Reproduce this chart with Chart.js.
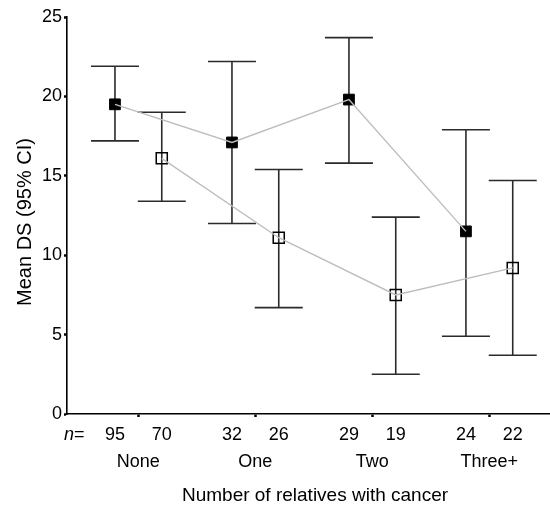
<!DOCTYPE html>
<html>
<head>
<meta charset="utf-8">
<script src="https://cdn.jsdelivr.net/npm/chart.js@4"></script>
<style>
  html, body { margin: 0; padding: 0; background: #fff; overflow: hidden; }
</style>
</head>
<body>
<canvas id="chart" width="550" height="505"></canvas>
<script>
// categories on the x axis
const categories = ["None", "One", "Two", "Three+"];
// group sizes under each point
const filledN = [95, 32, 29, 24];
const openN = [70, 26, 19, 22];
// means and 95% CI, filled squares
const filledMean = [19.5, 17.1, 19.8, 11.5];
const filledLow = [17.2, 12.0, 15.8, 4.9];
const filledHigh = [21.9, 22.2, 23.7, 17.9];
// means and 95% CI, open squares
const openMean = [16.1, 11.1, 7.5, 9.2];
const openLow = [13.4, 6.7, 2.5, 3.7];
const openHigh = [19.0, 15.4, 12.4, 14.7];
// y ticks
const yTicks = [0, 5, 10, 15, 20, 25];

const OFFSET = 0.2;
const FONT = "'Liberation Sans', Arial, sans-serif";

const toPoints = (vals, shift) => vals.map((v, i) => ({ x: i + 1 + shift, y: v }));

const errorBars = {
  id: "errorBars",
  beforeDatasetsDraw(chart) {
    const xs = chart.scales.x, ys = chart.scales.y;
    const ctx = chart.ctx;
    ctx.save();
    ctx.strokeStyle = "#2b2b2b";
    ctx.lineWidth = 1.6;
    const draw = (lows, highs, shift) => {
      lows.forEach((lo, i) => {
        const x = xs.getPixelForValue(i + 1 + shift);
        const y1 = ys.getPixelForValue(lo);
        const y2 = ys.getPixelForValue(highs[i]);
        ctx.beginPath();
        ctx.moveTo(x, y1); ctx.lineTo(x, y2);
        ctx.moveTo(x - 24, y1); ctx.lineTo(x + 24, y1);
        ctx.moveTo(x - 24, y2); ctx.lineTo(x + 24, y2);
        ctx.stroke();
      });
    };
    draw(filledLow, filledHigh, -OFFSET);
    draw(openLow, openHigh, OFFSET);
    ctx.restore();
  },
  afterDraw(chart) {
    const xs = chart.scales.x;
    const ctx = chart.ctx;
    ctx.save();
    ctx.fillStyle = "#000";
    ctx.textBaseline = "middle";
    ctx.textAlign = "left";
    ctx.font = "italic 18px " + FONT;
    ctx.fillText("n", 64, 435);
    const nw = ctx.measureText("n").width;
    ctx.font = "18px " + FONT;
    ctx.fillText("=", 64 + nw, 435);
    ctx.textAlign = "center";
    categories.forEach((c, i) => {
      ctx.fillText(String(filledN[i]), xs.getPixelForValue(i + 1 - OFFSET), 435);
      ctx.fillText(String(openN[i]), xs.getPixelForValue(i + 1 + OFFSET), 435);
      ctx.fillText(c, xs.getPixelForValue(i + 1), 462);
    });
    // axis titles
    ctx.font = "19px " + FONT;
    ctx.fillText("Number of relatives with cancer", 315, 496);
    ctx.font = "20px " + FONT;
    ctx.textBaseline = "alphabetic";
    ctx.translate(30.5, 222);
    ctx.rotate(-Math.PI / 2);
    ctx.fillText("Mean DS (95% CI)", 0, 0);
    ctx.restore();
  }
};

new Chart(document.getElementById("chart"), {
  type: "line",
  data: {
    datasets: [
      {
        data: toPoints(filledMean, -OFFSET),
        showLine: false,
        pointStyle: "rect",
        pointRadius: 7.6,
        pointBackgroundColor: "#000",
        pointBorderColor: "#000",
        pointBorderWidth: 1,
        order: 2
      },
      {
        data: toPoints(openMean, OFFSET),
        showLine: false,
        pointStyle: "rect",
        pointRadius: 7.8,
        pointBackgroundColor: "rgba(0,0,0,0)",
        pointBorderColor: "#000",
        pointBorderWidth: 1.5,
        order: 2
      },
      {
        data: toPoints(filledMean, -OFFSET),
        borderColor: "#bdbdbd",
        borderWidth: 1.4,
        pointRadius: 0,
        order: 1
      },
      {
        data: toPoints(openMean, OFFSET),
        borderColor: "#bdbdbd",
        borderWidth: 1.4,
        pointRadius: 0,
        order: 1
      }
    ]
  },
  options: {
    responsive: false,
    animation: false,
    events: [],
    layout: { autoPadding: false, padding: { top: 17, right: 1, left: 0, bottom: 0 } },
    plugins: { legend: { display: false }, tooltip: { enabled: false } },
    scales: {
      x: {
        type: "linear",
        min: 0.39,
        max: 4.51,
        afterBuildTicks: s => { s.ticks = categories.map((c, i) => ({ value: i + 1 })); },
        afterFit: s => { s.height = 91; s.paddingLeft = 0; s.paddingRight = 0; },
        ticks: { display: false },
        grid: { drawOnChartArea: false, tickLength: 3, tickWidth: 2.5, color: "#000" },
        border: { color: "#000", width: 1.6 }
      },
      y: {
        min: 0,
        max: 25,
        afterBuildTicks: s => { s.ticks = yTicks.map(v => ({ value: v })); },
        afterFit: s => { s.width = 67; s.paddingTop = 0; s.paddingBottom = 0; },
        ticks: { color: "#000", font: { family: FONT, size: 18 }, padding: 2 },
        grid: { drawOnChartArea: false, tickLength: 3, tickWidth: 2.5, color: "#000" },
        border: { color: "#000", width: 1.6 }
      }
    }
  },
  plugins: [errorBars]
});
</script>
</body>
</html>
